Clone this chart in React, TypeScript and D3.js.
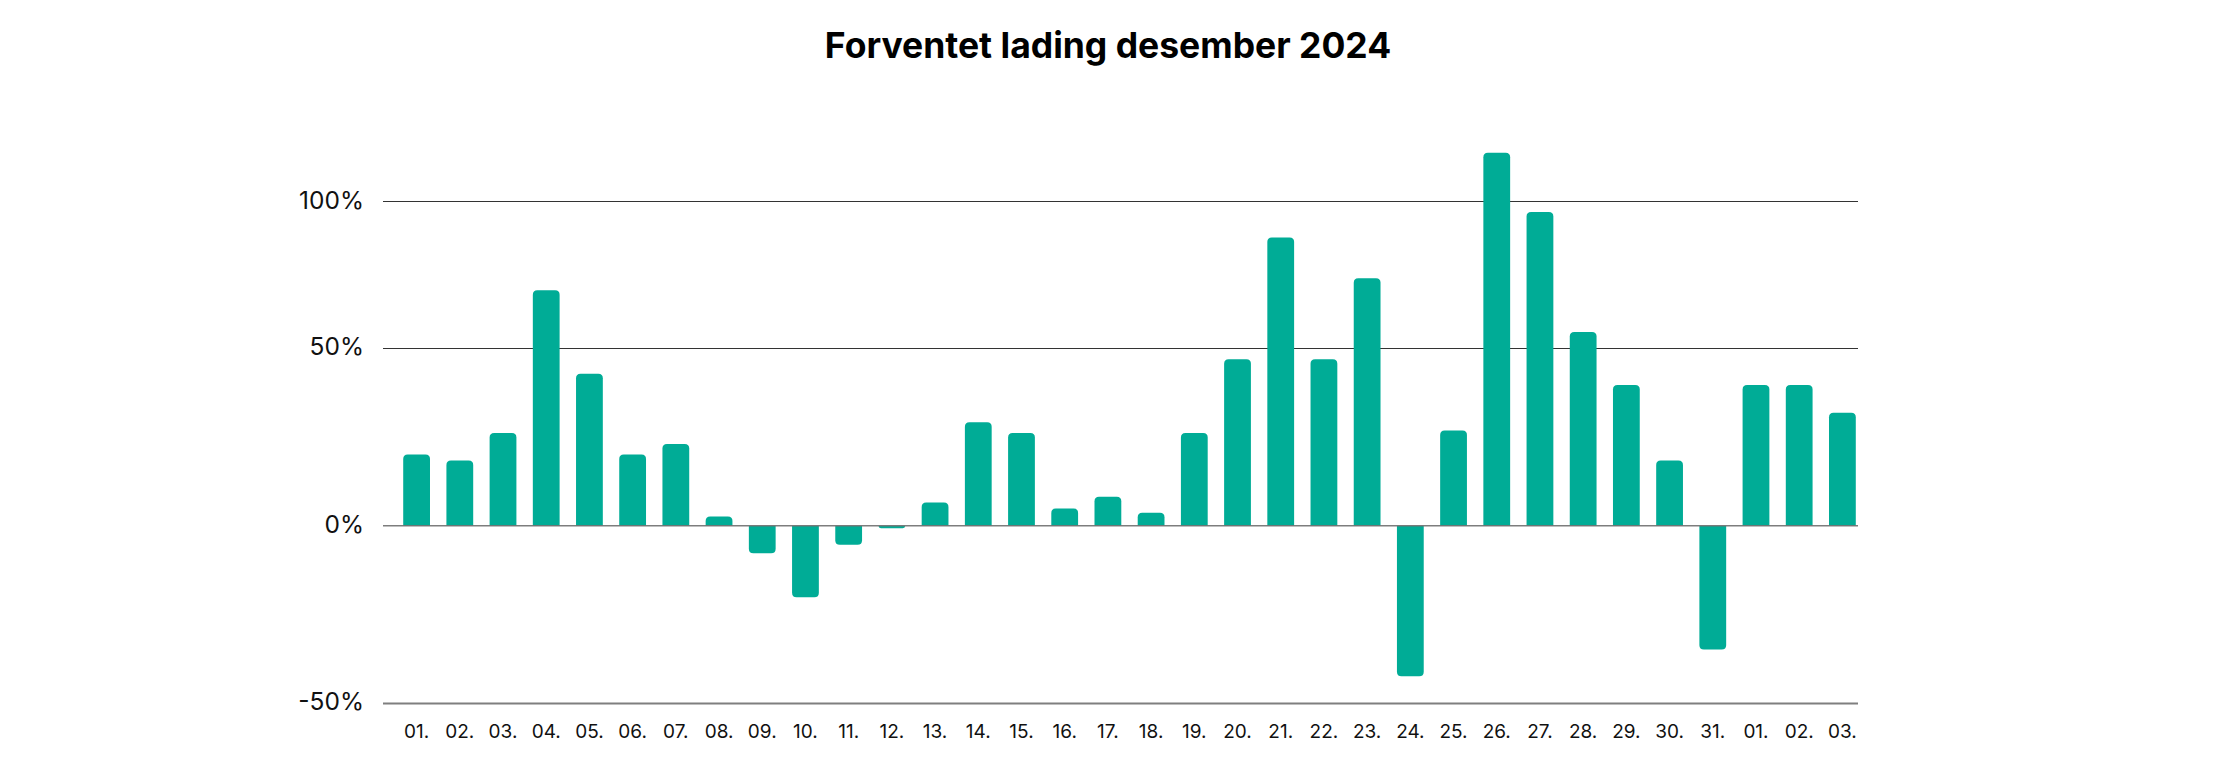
import React, { useEffect, useRef } from "react";
import * as d3 from "d3";

const title = "Forventet lading desember 2024";

const days = [
  "01.", "02.", "03.", "04.", "05.", "06.", "07.", "08.", "09.", "10.",
  "11.", "12.", "13.", "14.", "15.", "16.", "17.", "18.", "19.", "20.",
  "21.", "22.", "23.", "24.", "25.", "26.", "27.", "28.", "29.", "30.",
  "31.", "01.", "02.", "03.",
];

// expected change in %
const values = [
  20.0, 18.3, 26.0, 69.6, 42.6, 20.0, 22.9, 2.6, -7.8, -20.2,
  -5.4, -0.7, 6.5, 29.0, 26.0, 4.8, 8.1, 3.6, 26.0, 46.7,
  87.6, 46.7, 73.7, -42.6, 26.7, 116.6, 96.3, 55.3, 39.5, 18.3,
  -35.0, 39.5, 39.5, 31.7,
];

const yTicks = [100, 50, 0, -50];

const WIDTH = 2216;
const HEIGHT = 781;
const BAR_COLOR = "#00ac96";
const FONT = "Inter, 'Noto Sans', sans-serif";

export default function App() {
  const svgRef = useRef<SVGSVGElement>(null);

  useEffect(() => {
    document.body.style.margin = "0";
    if (!svgRef.current) return;
    const svg = d3.select(svgRef.current);
    svg.selectAll("*").remove();

    const gridLeft = 383;
    const gridRight = 1858;

    // the source axis is not evenly spaced, so map each gridline explicitly
    const y = d3
      .scaleLinear()
      .domain([-50, 0, 50, 100])
      .range([702.5, 525.7, 347.5, 201.3]);

    const x = d3
      .scaleBand<number>()
      .domain(d3.range(values.length))
      .range([395, 1864])
      .paddingInner(0.38)
      .paddingOuter(0.19);

    // title
    svg
      .append("text")
      .attr("x", WIDTH / 2)
      .attr("y", 58)
      .attr("text-anchor", "middle")
      .style("font-family", FONT)
      .style("font-size", "35.5px")
      .style("font-weight", "700")
      .style("fill", "#000")
      .text(title);

    // gridlines (non-zero ones behind bars)
    svg
      .append("g")
      .selectAll("line")
      .data(yTicks.filter((t) => t !== 0))
      .enter()
      .append("line")
      .attr("x1", gridLeft)
      .attr("x2", gridRight)
      .attr("y1", (d) => Math.round(y(d)) + 0.5)
      .attr("y2", (d) => Math.round(y(d)) + 0.5)
      .attr("stroke", (d) => (d < 0 ? "#7f7f7f" : "#333"))
      .attr("stroke-width", (d) => (d < 0 ? 2 : 1.2));

    // y labels
    svg
      .append("g")
      .selectAll("text")
      .data(yTicks)
      .enter()
      .append("text")
      .attr("x", 364)
      .attr("y", (d) => y(d) + 1)
      .attr("text-anchor", "end")
      .attr("dominant-baseline", "middle")
      .style("font-family", FONT)
      .style("font-size", "24.5px")
      .style("fill", "#111")
      .text((d) => `${d}%`);

    // bars with rounded outer end
    const r = 4.5;
    const barPath = (i: number) => {
      const v = values[i];
      const x0 = x(i)!;
      const w = x.bandwidth();
      const y0 = y(0);
      const y1 = y(v);
      const h = Math.abs(y1 - y0);
      const rr = Math.min(r, h, w / 2);
      const p = d3.path();
      if (v >= 0) {
        p.moveTo(x0, y0);
        p.lineTo(x0, y1 + rr);
        p.quadraticCurveTo(x0, y1, x0 + rr, y1);
        p.lineTo(x0 + w - rr, y1);
        p.quadraticCurveTo(x0 + w, y1, x0 + w, y1 + rr);
        p.lineTo(x0 + w, y0);
      } else {
        p.moveTo(x0, y0);
        p.lineTo(x0, y1 - rr);
        p.quadraticCurveTo(x0, y1, x0 + rr, y1);
        p.lineTo(x0 + w - rr, y1);
        p.quadraticCurveTo(x0 + w, y1, x0 + w, y1 - rr);
        p.lineTo(x0 + w, y0);
      }
      p.closePath();
      return p.toString();
    };

    svg
      .append("g")
      .selectAll("path")
      .data(values.map((_, i) => i))
      .enter()
      .append("path")
      .attr("d", (i) => barPath(i))
      .attr("fill", BAR_COLOR);

    // zero line on top of the bars
    svg
      .append("line")
      .attr("x1", gridLeft)
      .attr("x2", gridRight)
      .attr("y1", y(0))
      .attr("y2", y(0))
      .attr("stroke", "#6f6f6f")
      .attr("stroke-opacity", 0.9)
      .attr("stroke-width", 1.5);

    // x labels
    svg
      .append("g")
      .selectAll("text")
      .data(days.map((d, i) => ({ d, i })))
      .enter()
      .append("text")
      .attr("x", (d) => x(d.i)! + x.bandwidth() / 2)
      .attr("y", 733)
      .attr("text-anchor", "middle")
      .attr("dominant-baseline", "middle")
      .style("font-family", FONT)
      .style("font-size", "19px")
      .style("fill", "#111")
      .text((d) => d.d);
  }, []);

  return (
    <svg
      ref={svgRef}
      width={WIDTH}
      height={HEIGHT}
      style={{ display: "block", background: "#fff" }}
    />
  );
}
